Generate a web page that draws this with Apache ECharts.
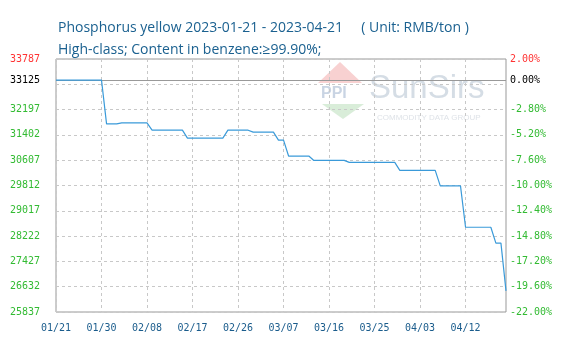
<!DOCTYPE html>
<html><head><meta charset="utf-8">
<script src="https://cdn.jsdelivr.net/npm/echarts@6/dist/echarts.min.js"></script>
<style>html,body{margin:0;padding:0;background:#fff}#c{width:564px;height:343px}</style>
</head><body><div id="c"></div>
<script>
const titleLine1 = 'Phosphorus yellow 2023-01-21 - 2023-04-21     ( Unit: RMB/ton )';
const titleLine2 = 'High-class; Content in benzene:\u226599.90%;';

const dates = [
  '01/21','01/22','01/23','01/24','01/25','01/26','01/27','01/28','01/29','01/30','01/31',
  '02/01','02/02','02/03','02/04','02/05','02/06','02/07','02/08','02/09','02/10','02/11','02/12','02/13','02/14',
  '02/15','02/16','02/17','02/18','02/19','02/20','02/21','02/22','02/23','02/24','02/25','02/26','02/27','02/28',
  '03/01','03/02','03/03','03/04','03/05','03/06','03/07','03/08','03/09','03/10','03/11','03/12','03/13','03/14',
  '03/15','03/16','03/17','03/18','03/19','03/20','03/21','03/22','03/23','03/24','03/25','03/26','03/27','03/28',
  '03/29','03/30','03/31',
  '04/01','04/02','04/03','04/04','04/05','04/06','04/07','04/08','04/09','04/10','04/11','04/12','04/13','04/14',
  '04/15','04/16','04/17','04/18','04/19','04/20'
];

const prices = [
  33125,33125,33125,33125,33125,33125,33125,33125,33125,33125,
  31750,31750,31750,
  31781,31781,31781,31781,31781,31781,
  31550,31550,31550,31550,31550,31550,31550,
  31300,31300,31300,31300,31300,31300,31300,31300,
  31550,31550,31550,31550,31550,
  31488,31488,31488,31488,31488,
  31238,31238,
  30738,30738,30738,30738,30738,
  30600,30600,30600,30600,30600,30600,30600,
  30538,30538,30538,30538,30538,30538,30538,30538,30538,30538,
  30288,30288,30288,30288,30288,30288,30288,30288,
  29800,29800,29800,29800,29800,
  28500,28500,28500,28500,28500,28500,
  28000,28000,
  26500
];

const basePrice = 33125;
const leftTickLabels = [25837,26632,27427,28222,29017,29812,30607,31402,32197,33125,33787];
const rightTickLabels = [-22,-19.6,-17.2,-14.8,-12.4,-10,-7.6,-5.2,-2.8,0,2];

const leftMin = 25837, leftMax = 33787, leftStep = 795;
const rightMin = -22, rightMax = 2, rightStep = 2.4;

const RED = '#ff3333', GREEN = '#33bb33', BLACK = '#000000';
const monoFont = '"DejaVu Sans Mono", monospace';

const chart = echarts.init(document.getElementById('c'), null, {renderer: 'canvas'});
chart.setOption({
  animation: false,
  backgroundColor: '#ffffff',
  title: {
    text: titleLine1 + '\n' + titleLine2,
    left: 53, top: 12,
    textStyle: {color: '#1b6190', fontSize: 14, fontWeight: 'normal', fontFamily: '"Open Sans", sans-serif', lineHeight: 22}
  },
  graphic: [
    {type: 'polygon', z: -10, silent: true, shape: {points: [[340,62],[318,83],[362,83]]}, style: {fill: '#f6c6c6', opacity: 0.8}},
    {type: 'text', z: -10, silent: true, left: 321, top: 86, style: {text: 'PPI', fill: '#c3cfe0', font: 'bold 16px "Liberation Sans", sans-serif', opacity: 0.9}},
    {type: 'polygon', z: -10, silent: true, shape: {points: [[322,104],[364,104],[343,119]]}, style: {fill: '#cfe9cf', opacity: 0.8}},
    {type: 'text', z: -10, silent: true, left: 369, top: 72, style: {text: 'SunSirs', fill: '#d5dde5', font: '33px "Liberation Sans", sans-serif'}},
    {type: 'text', z: -10, silent: true, left: 377, top: 114, style: {text: 'COMMODITY DATA GROUP', fill: '#dfe3e8', font: '8px "Liberation Sans", sans-serif'}}
  ],
  grid: {left: 56, right: 58, top: 59, bottom: 31, show: true, borderColor: '#999', borderWidth: 1, backgroundColor: 'transparent'},
  xAxis: {
    type: 'category', data: dates, boundaryGap: false,
    axisLine: {show: false}, axisTick: {show: false},
    axisLabel: {interval: (i) => i % 9 === 0, margin: 11, color: '#1a5c8c', fontSize: 10, fontFamily: monoFont},
    splitLine: {show: true, interval: (i) => i % 9 === 0, lineStyle: {color: '#c8c8c8', type: [3, 3], width: 1}}
  },
  yAxis: [
    {
      type: 'value', min: leftMin, max: leftMax, interval: leftStep,
      axisLine: {show: false}, axisTick: {show: false},
      axisLabel: {
        customValues: leftTickLabels, margin: 16, fontSize: 10, fontFamily: monoFont,
        formatter: (v) => String(Math.round(v)),
        color: (v) => { v = Number(v); return v === leftMax ? RED : (v === basePrice ? BLACK : GREEN); }
      },
      splitLine: {show: true, lineStyle: {color: '#c8c8c8', type: [3, 3], width: 1}}
    },
    {
      type: 'value', position: 'right', min: rightMin, max: rightMax, interval: rightStep,
      axisLine: {show: false}, axisTick: {show: false},
      axisLabel: {
        customValues: rightTickLabels, margin: 4, fontSize: 10, fontFamily: monoFont,
        formatter: (v) => Number(v).toFixed(2) + '%',
        color: (v) => { v = Number(v); return v === rightMax ? RED : (Math.abs(v) < 1e-9 ? BLACK : GREEN); }
      },
      splitLine: {show: false}
    }
  ],
  series: [{
    type: 'line', data: prices, yAxisIndex: 0, symbol: 'none', silent: true,
    lineStyle: {color: '#3a9ad9', width: 1.2},
    markLine: {
      silent: true, symbol: 'none', label: {show: false},
      lineStyle: {color: '#999999', type: 'solid', width: 1.2},
      data: [{yAxis: basePrice}]
    },
    z: 5
  }]
});
</script>
</body></html>
